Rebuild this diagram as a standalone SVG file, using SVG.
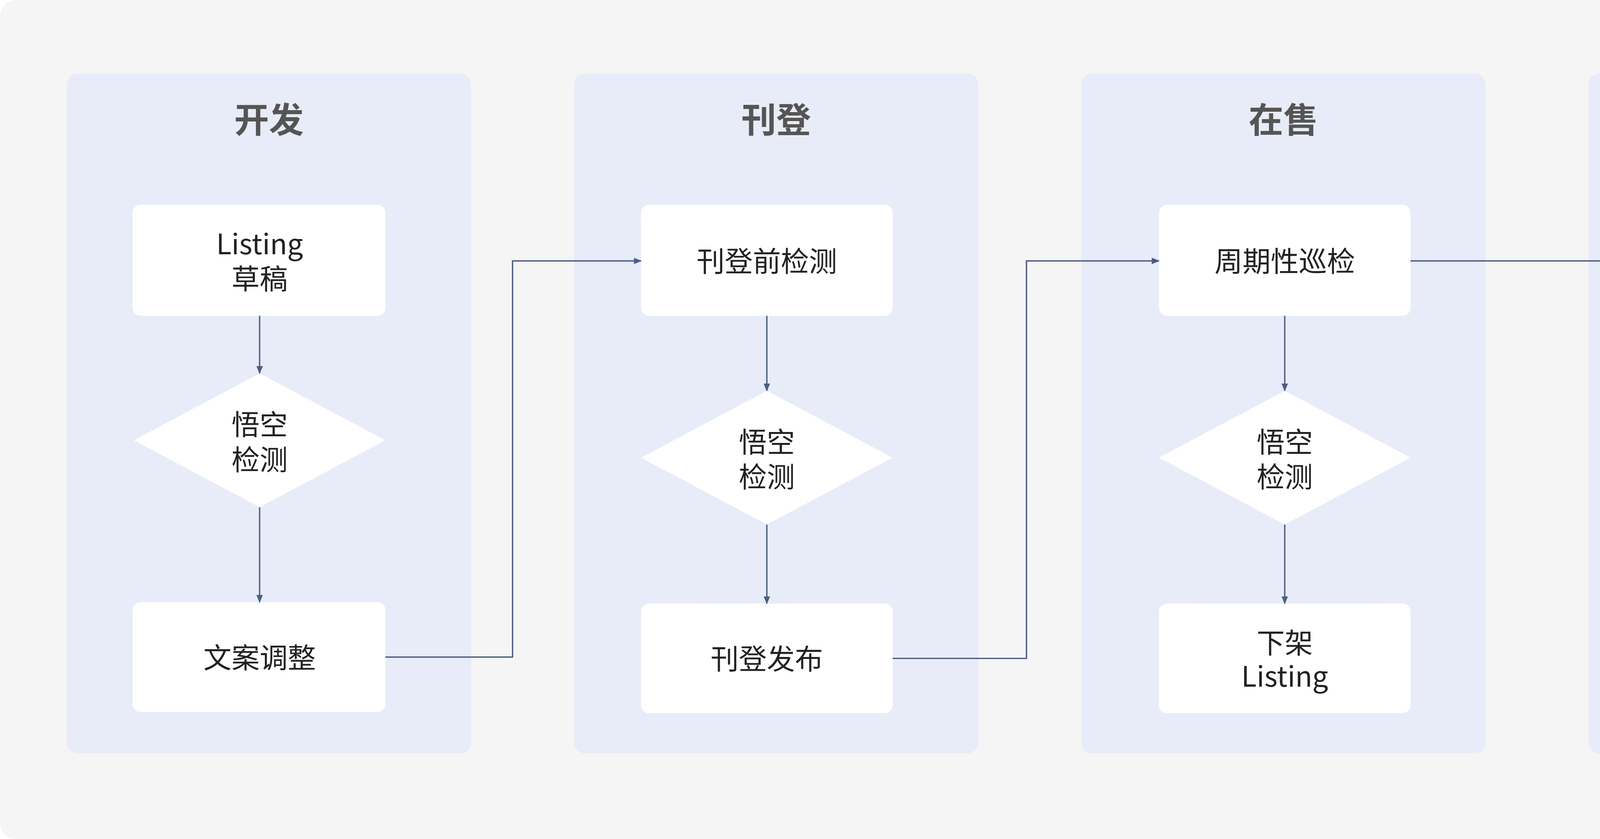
<svg xmlns="http://www.w3.org/2000/svg" width="5372" height="2148" viewBox="0 0 5372 2148">
<defs>
<marker id="ah" viewBox="0 0 10 10" refX="9" refY="5" markerWidth="6" markerHeight="6" markerUnits="userSpaceOnUse" orient="auto"><path d="M0,1 L10,5 L0,9 Z" fill="#4b5d82"/></marker>
<style>
.lane{fill:#e8ecf8}
.box{fill:#ffffff}
.t{font-family:"Noto Sans CJK SC","Noto Sans",sans-serif;font-size:21px;fill:#222;text-anchor:middle}
.h{font-family:"Noto Sans CJK SC","Noto Sans",sans-serif;font-size:26px;font-weight:bold;fill:#555;text-anchor:middle}
.e{fill:none;stroke:#4b5d82;stroke-width:1}
</style>
</defs>
<g transform="scale(3.42602)">
<rect x="0" y="0" width="1568" height="627" rx="12" fill="#f5f5f5"/>
<g id="lane1"><rect class="lane" x="50" y="55" width="302" height="508" rx="8"/><text class="h" x="201" y="99">开发</text></g>
<g id="lane2"><rect class="lane" x="429" y="55" width="302" height="508" rx="8"/><text class="h" x="580" y="99">刊登</text></g>
<g id="lane3"><rect class="lane" x="808" y="55" width="302" height="508" rx="8"/><text class="h" x="959" y="99">在售</text></g>
<g id="lane4"><rect class="lane" x="1187" y="55" width="302" height="508" rx="8"/><text class="h" x="1338" y="99">出单</text></g>

<g id="n1"><rect class="box" x="99" y="153" width="189" height="83" rx="6"/><text class="t" x="194" y="190">Listing</text><text class="t" x="194" y="216">草稿</text></g>
<g id="d1"><polygon class="box" points="194,279 288,329 194,379 100,329"/><text class="t" x="194" y="325">悟空</text><text class="t" x="194" y="351">检测</text></g>
<g id="n2"><rect class="box" x="99" y="450" width="189" height="82" rx="6"/><text class="t" x="194" y="499">文案调整</text></g>

<g id="n3"><rect class="box" x="479" y="153" width="188" height="83" rx="6"/><text class="t" x="573" y="203">刊登前检测</text></g>
<g id="d2"><polygon class="box" points="573,292 667,342 573,392 479,342"/><text class="t" x="573" y="338">悟空</text><text class="t" x="573" y="364">检测</text></g>
<g id="n4"><rect class="box" x="479" y="451" width="188" height="82" rx="6"/><text class="t" x="573" y="500">刊登发布</text></g>

<g id="n5"><rect class="box" x="866" y="153" width="188" height="83" rx="6"/><text class="t" x="960" y="203">周期性巡检</text></g>
<g id="d3"><polygon class="box" points="960,292 1054,342 960,392 866,342"/><text class="t" x="960" y="338">悟空</text><text class="t" x="960" y="364">检测</text></g>
<g id="n6"><rect class="box" x="866" y="451" width="188" height="82" rx="6"/><text class="t" x="960" y="488">下架</text><text class="t" x="960" y="513">Listing</text></g>

<g id="n7"><rect class="box" x="1231" y="153" width="188" height="83" rx="6"/><text class="t" x="1325" y="203">黑名单救急排查</text></g>
<g id="d4"><polygon class="box" points="1325,297 1419,347 1325,397 1231,347"/><text class="t" x="1325" y="343">悟空</text><text class="t" x="1325" y="369">检测</text></g>
<g id="n8"><rect class="box" x="1231" y="451" width="188" height="82" rx="6"/><text class="t" x="1325" y="500">应急措施</text></g>

<g id="edges">
<path class="e" marker-end="url(#ah)" d="M194,236 V279"/>
<path class="e" marker-end="url(#ah)" d="M194,379 V450"/>
<path class="e" marker-end="url(#ah)" d="M288,491 H383 V195 H479"/>
<path class="e" marker-end="url(#ah)" d="M573,236 V292"/>
<path class="e" marker-end="url(#ah)" d="M573,392 V451"/>
<path class="e" marker-end="url(#ah)" d="M667,492 H767 V195 H866"/>
<path class="e" marker-end="url(#ah)" d="M960,236 V292"/>
<path class="e" marker-end="url(#ah)" d="M960,392 V451"/>
<path class="e" marker-end="url(#ah)" d="M1054,195 H1231"/>
<path class="e" marker-end="url(#ah)" d="M1325,236 V297"/>
<path class="e" marker-end="url(#ah)" d="M1325,397 V451"/>
</g>
</g>
</svg>
